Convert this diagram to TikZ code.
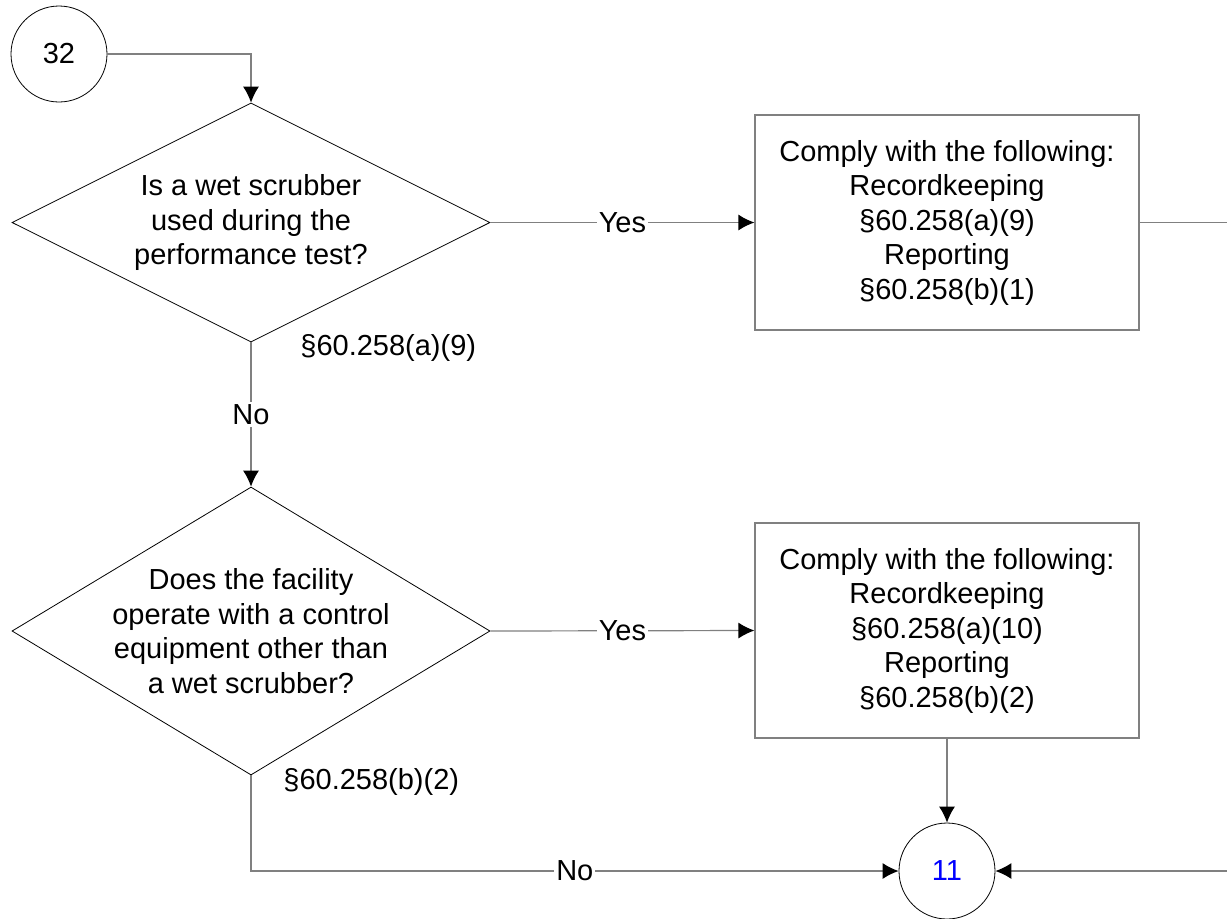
\documentclass[tikz,border=0pt]{standalone}
\usepackage{fontspec}
\setmainfont{Liberation Sans}
\usepackage{tikz}
\usetikzlibrary{arrows.meta,positioning,shapes.geometric}
\tikzset{
  every node/.style={font=\fontsize{14.5}{17.25}\selectfont},
  decision/.style={diamond, draw=black, line width=0.4pt,
    minimum width=239pt, inner sep=0pt},
  question/.style={align=center, inner sep=0pt},
  comply/.style={rectangle, draw=gray, line width=0.6pt,
    minimum width=192pt, minimum height=107.5pt, align=center},
  offpage/.style={circle, draw=black, line width=0.4pt,
    minimum size=48pt, inner sep=0pt},
  flow/.style={draw=gray, line width=0.6pt},
  answer/.style={fill=white, inner sep=1pt},
  cite/.style={anchor=west, inner sep=0pt}
}

\begin{document}
\begin{tikzpicture}[x=0.5pt, y=-0.5pt,
  >={Latex[length=8pt,width=8pt,color=black]}]
\useasboundingbox (0,0) rectangle (1227,918);

\node[offpage] (c32) at (59,54) {32};
\node[offpage] (c11) at (947,871) {\textcolor{blue}{11}};

\node[decision, minimum height=119.5pt] (d1) at (251,222.5) {};
\node[question] (q1) at (d1.center)
  {Is a wet scrubber\\used during the\\performance test?};
\node[decision, minimum height=144pt] (d2) at (251,631) {};
\node[question] (q2) at (d2.center)
  {Does the facility\\operate with a control\\equipment other than\\a wet scrubber?};

\node[comply] (b1) at (947,222.5)
  {Comply with the following:\\Recordkeeping\\§60.258(a)(9)\\Reporting\\§60.258(b)(1)};
\node[comply] (b2) at (947,630.5)
  {Comply with the following:\\Recordkeeping\\§60.258(a)(10)\\Reporting\\§60.258(b)(2)};

\node[cite] (r1) at (300,348) {§60.258(a)(9)};
\node[cite] (r2) at (283,782) {§60.258(b)(2)};

\coordinate (loop) at (1260,222.5);

\draw[flow,->] (c32.east) -| (d1.north);
\draw[flow,->] (d1.east) -- node[answer] (y1) {Yes} (b1.west);
\draw[flow,->] (d1.south) -- node[answer] (n1) {No} (d2.north);
\draw[flow,->] (d2.east) -- node[answer] (y2) {Yes} (b2.west);
\draw[flow,->] (d2.south) |- node[answer, pos=0.75] (n2) {No} (c11.west);
\draw[flow,->] (b2.south) -- (c11.north);
\draw[flow,->] (b1.east) -- (loop) |- (c11.east);
\end{tikzpicture}
\end{document}
